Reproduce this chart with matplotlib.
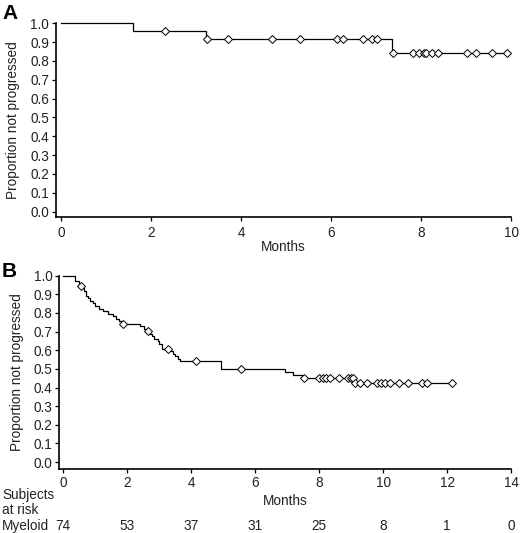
import numpy as np
import matplotlib
matplotlib.use("Agg")
import matplotlib.pyplot as plt
from matplotlib.transforms import blended_transform_factory

plt.rcParams['font.family'] = ['Liberation Sans', 'DejaVu Sans']

# Panel A: Kaplan-Meier steps and censor times
a_time = [0, 1.6, 3.22, 7.36, 9.9]
a_surv = [1.0, 0.958, 0.917, 0.840, 0.840]
a_cens = [2.3, 3.24, 3.7, 4.69, 5.31, 6.13, 6.27, 6.7, 6.9, 7.03, 7.37,
          7.83, 7.96, 8.06, 8.11, 8.24, 8.37, 9.01, 9.23, 9.58, 9.9]

# Panel B
b_time = [0, 0.37, 0.48, 0.6, 0.66, 0.72, 0.78, 0.85, 0.92, 1.0, 1.12, 1.25,
          1.4, 1.55, 1.65, 1.75, 1.82, 2.4, 2.52, 2.6, 2.7, 2.78, 2.85, 2.95,
          3.0, 3.08, 3.35, 3.42, 3.5, 3.58, 3.65, 4.92, 6.93, 7.19, 7.45, 9.08,
          12.15]
b_surv = [1.0, 0.973, 0.946, 0.932, 0.919, 0.892, 0.878, 0.865, 0.851, 0.838,
          0.824, 0.811, 0.797, 0.784, 0.770, 0.757, 0.743, 0.730, 0.716, 0.703,
          0.689, 0.676, 0.662, 0.649, 0.635, 0.608, 0.595, 0.581, 0.568, 0.554,
          0.541, 0.501, 0.485, 0.468, 0.452, 0.424, 0.424]
b_cens = [0.54, 1.88, 2.64, 3.26, 4.15, 5.55, 7.53, 7.98, 8.11, 8.22, 8.34,
          8.62, 8.89, 8.99, 9.05, 9.12, 9.26, 9.49, 9.82, 9.94, 10.06, 10.22,
          10.5, 10.79, 11.21, 11.37, 12.15]

risk_times = [0, 2, 4, 6, 8, 10, 12, 14]
risk_myeloid = [74, 53, 37, 31, 25, 8, 1, 0]

FS = 9.8
TXT = '#222222'


def km_panel(ax, times, surv, cens, xmax, xoff, yoff):
    ax.step(times, surv, where='post', color='black', lw=0.9, clip_on=False)
    idx = np.searchsorted(times, cens, side='right') - 1
    cy = np.array(surv)[idx]
    ax.plot(cens, cy, linestyle='none', marker='D', markersize=4,
            markerfacecolor='white', markeredgecolor='black',
            markeredgewidth=0.7, clip_on=False, zorder=3)
    ax.set_xlim(-xoff, xmax)
    ax.set_ylim(-yoff, 1.0)
    ax.set_xticks(np.arange(0, xmax + 0.1, 2))
    ax.set_yticks(np.arange(0, 1.01, 0.1))
    ax.set_yticklabels(['%.1f' % v for v in np.arange(0, 1.01, 0.1)])
    for s in ['top', 'right']:
        ax.spines[s].set_visible(False)
    for s in ['left', 'bottom']:
        ax.spines[s].set_linewidth(1.2)
    ax.tick_params(direction='out', length=3, width=0.9, labelsize=FS, pad=2,
                   labelcolor=TXT)
    ax.set_ylabel('Proportion not progressed', fontsize=FS, color=TXT)


fig = plt.figure(figsize=(5.2, 5.33), dpi=100)

axA = fig.add_axes([0.1077, 0.5934, 0.983 - 0.1077, 0.9563 - 0.5934])
km_panel(axA, a_time, a_surv, a_cens, 10, 0.11, 0.027)
axA.tick_params(axis='x', pad=3.5)
axA.set_xlabel('Months', fontsize=FS, labelpad=0, color=TXT)
axA.yaxis.set_label_coords(-0.079, 0.5)

axB = fig.add_axes([0.114, 0.120, 0.983 - 0.114, 0.4827 - 0.120])
km_panel(axB, b_time, b_surv, b_cens, 14, 0.125, 0.0376)
axB.set_xlabel('Months', fontsize=FS, labelpad=3, color=TXT)
axB.yaxis.set_label_coords(-0.078, 0.5)

fig.text(0.004, 0.992, 'A', fontsize=15, fontweight='bold', va='top', ha='left')
fig.text(0.004, 0.509, 'B', fontsize=15, fontweight='bold', va='top', ha='left')

# risk table
fig.text(0.004, 1 - 495 / 533, 'Subjects', fontsize=FS, va='center', ha='left', color=TXT)
fig.text(0.004, 1 - 510 / 533, 'at risk', fontsize=FS, va='center', ha='left', color=TXT)
fig.text(0.004, 1 - 526 / 533, 'Myeloid', fontsize=FS, va='center', ha='left', color=TXT)
trans = blended_transform_factory(axB.transData, fig.transFigure)
for t, n in zip(risk_times, risk_myeloid):
    axB.text(t, 1 - 526 / 533, str(n), transform=trans, fontsize=FS,
             ha='center', va='center', clip_on=False, color=TXT)

fig.savefig('out.png', dpi=100)
